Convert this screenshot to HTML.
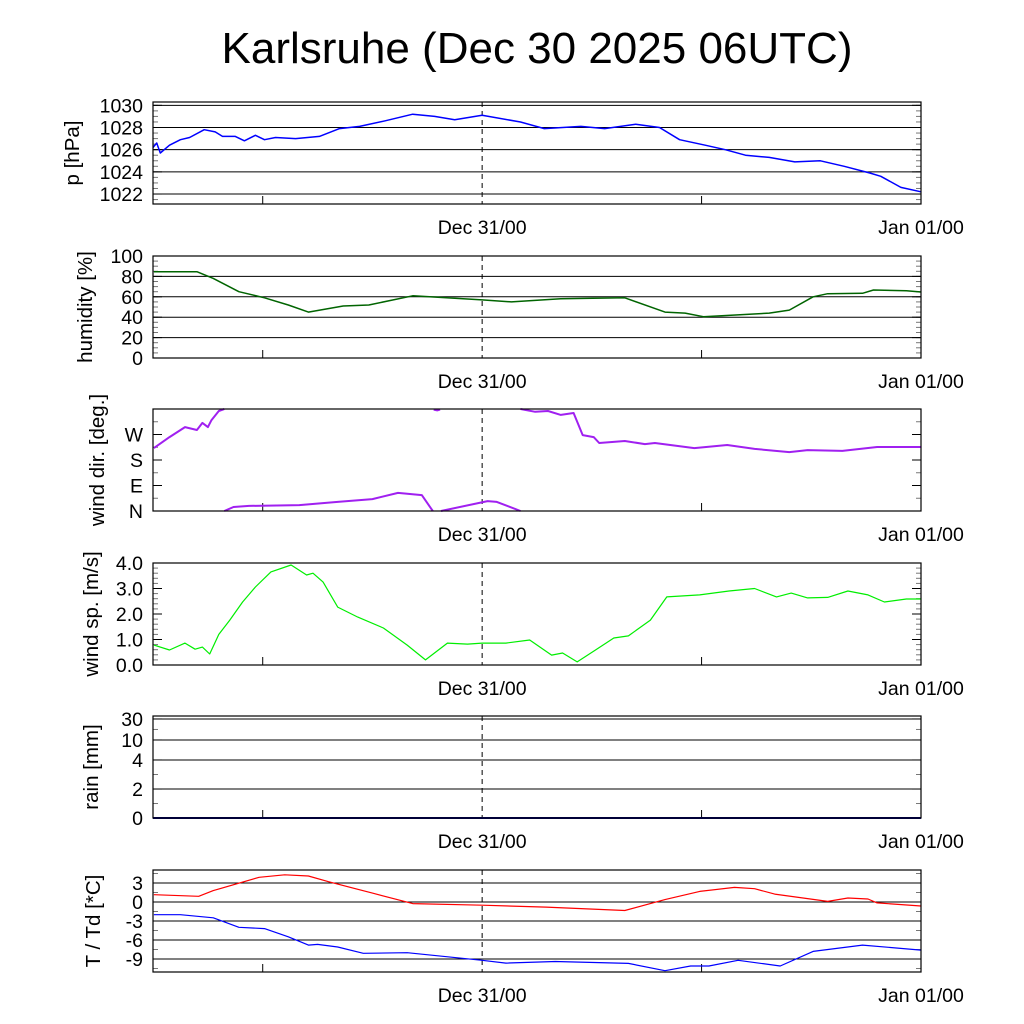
<!DOCTYPE html>
<html><head><meta charset="utf-8">
<style>
html,body{margin:0;padding:0;background:#fff;}
svg{display:block;font-family:"Liberation Sans",sans-serif;}
</style></head>
<body>
<svg id="chart" width="1024" height="1024" viewBox="0 0 1024 1024">
<text x="537" y="63" font-size="44" text-anchor="middle">Karlsruhe (Dec 30 2025 06UTC)</text>
</svg>
<script>
// ---- data (hours since Dec 30 00UTC) ----
const pTime=[6.0,6.2,6.4,6.9,7.5,8.0,8.8,9.4,9.8,10.5,11.0,11.6,12.1,12.7,13.8,15.1,16.2,17.3,18.7,20.2,21.4,22.5,24.0,26.1,27.4,29.4,30.7,32.4,33.7,34.8,36.2,37.3,38.4,39.7,41.1,42.5,43.8,45.2,45.8,46.9,48.0];
const pVal=[1026.2,1026.6,1025.7,1026.4,1026.9,1027.1,1027.8,1027.6,1027.2,1027.2,1026.8,1027.3,1026.9,1027.1,1027.0,1027.2,1027.9,1028.1,1028.6,1029.2,1029.0,1028.7,1029.1,1028.5,1027.9,1028.1,1027.9,1028.3,1028.0,1026.9,1026.4,1026.0,1025.5,1025.3,1024.9,1025.0,1024.5,1023.9,1023.6,1022.6,1022.2];
const hTime=[6.05,8.4,9.3,10.7,12.1,13.4,14.5,16.4,17.8,20.2,24.0,25.6,28.3,31.8,34.0,35.1,36.1,39.7,40.8,42.1,42.9,44.8,45.4,47.2,48.0];
const hVal=[84.6,84.6,78,65,59,52,45,51,52,61,57,55,58,59,45,44,40.5,44,47,60,63,63.4,66.7,66,64.7];
const dTime=[6.05,6.9,7.75,8.4,8.7,9.0,9.2,9.6,9.9,9.9,10.4,11.25,14.0,16.1,18.0,19.4,20.7,21.3,21.35,21.55,21.7,21.75,24.3,24.8,26.1,26.1,26.9,27.6,28.3,29.0,29.5,30.1,30.4,31.8,32.9,33.45,35.6,37.4,38.9,40.8,41.8,43.7,45.6,48.0];
const dVal=[222,261,296,286,311,296,321,353,360,0,14,18,21,32,42,64,56,0,358,355,358,0,35,32,0,360,350,353,339,346,268,261,240,247,236,240,222,233,219,208,215,212,226,226];
const sTime=[6.05,6.9,7.75,8.3,8.7,9.1,9.6,10.2,10.9,11.6,12.45,13.55,14.4,14.75,15.3,16.1,17.2,18.6,19.9,20.9,22.1,23.2,24.0,25.3,26.6,27.8,28.4,29.2,30.2,31.2,32.0,33.2,34.1,35.9,37.5,38.9,40.1,40.9,41.8,42.9,44.0,45.1,46.0,47.2,48.0];
const sVal=[0.78,0.59,0.86,0.62,0.7,0.43,1.2,1.76,2.47,3.06,3.65,3.92,3.53,3.6,3.25,2.27,1.88,1.45,0.78,0.2,0.86,0.82,0.86,0.86,0.98,0.39,0.47,0.12,0.59,1.06,1.14,1.76,2.67,2.75,2.9,3.0,2.67,2.82,2.63,2.65,2.9,2.75,2.47,2.59,2.59];
const rTime=[6,48];
const rVal=[0,0];
const tTime=[6.05,8.5,9.3,11.8,13.2,14.5,15.6,18.0,20.2,24,27.5,31.8,34.0,35.9,37.8,38.9,40.0,41.1,42.9,44.0,45.1,45.6,48];
const tVal=[1.15,0.9,1.8,3.9,4.3,4.1,3.2,1.4,-0.26,-0.5,-0.8,-1.35,0.37,1.67,2.3,2.1,1.25,0.8,0.1,0.63,0.47,-0.15,-0.63];
const tdTime=[6.05,7.5,9.3,10.7,12.1,13.4,14.5,15.0,16.1,17.5,19.9,24,25.3,28.0,32.0,34.0,35.4,36.4,38.0,40.3,42.1,44.8,48];
const tdVal=[-2,-2,-2.5,-4,-4.2,-5.5,-6.8,-6.7,-7.1,-8.1,-8,-9.2,-9.65,-9.4,-9.7,-10.85,-10.1,-10.1,-9.2,-10.1,-7.8,-6.8,-7.6];
const xTickLabels=["Dec 31/00","Jan 01/00"];
const xTickHours=[24,48];
const pTicks=[1022,1024,1026,1028,1030];
const hTicks=[0,20,40,60,80,100];
const dTicks=[0,90,180,270];
const dTickLabels=["N","E","S","W"];
const sTicks=[0,1,2,3,4];
const sTickLabels=["0.0","1.0","2.0","3.0","4.0"];
const rTicks=[0,2,4,10,30];
const tTicks=[3,0,-3,-6,-9];

const svg=document.getElementById('chart');
const NS='http://www.w3.org/2000/svg';
const X0=153,X1=921,T0=6,T1=48;
function xs(t){return X0+(t-T0)/(T1-T0)*(X1-X0);}
function mk(tag,attrs,parent){const e=document.createElementNS(NS,tag);for(const k in attrs)e.setAttribute(k,attrs[k]);(parent||svg).appendChild(e);return e;}

function panel(cfg){
  const g=mk('g',{});
  
  
  const top=cfg.top,bot=cfg.top+102;
  const ys=cfg.ys||(v=>bot-(v-cfg.min)/(cfg.max-cfg.min)*(bot-top));
  (cfg.minor||[]).forEach(v=>{const y=ys(v);
    mk('line',{x1:X0,x2:X0+5,y1:y,y2:y,stroke:'#777','stroke-width':1},g);
    mk('line',{x1:X1-5,x2:X1,y1:y,y2:y,stroke:'#777','stroke-width':1},g);});
  cfg.ticks.forEach((v,i)=>{const y=ys(v);
    if(cfg.grid){const gl=mk('line',{x1:X0,x2:X1,y1:y,y2:y,stroke:'#000','stroke-width':1},g);
      
      }
    mk('line',{x1:X0,x2:X0+9,y1:y,y2:y,stroke:'#000','stroke-width':1},g);
    mk('line',{x1:X1-9,x2:X1,y1:y,y2:y,stroke:'#000','stroke-width':1},g);
    const tx=mk('text',{x:X0-10,y:y+7,'font-size':19.5,'text-anchor':'end'},g);
    
    
    tx.textContent=cfg.labels?cfg.labels[i]:String(v);});
  [12,36].forEach(h=>{mk('line',{x1:xs(h),x2:xs(h),y1:bot-8,y2:bot,stroke:'#000','stroke-width':1},g);});
  mk('line',{x1:xs(24),x2:xs(24),y1:top,y2:bot,stroke:'#000','stroke-width':1,'stroke-dasharray':'5,4'},g);
  cfg.series.forEach(s=>{
    let segs=[[]];
    s.t.forEach((t,i)=>{
      if(s.wrap&&i>0&&Math.abs(s.v[i]-s.v[i-1])>180){segs.push([]);}
      segs[segs.length-1].push([xs(t),ys(s.v[i])]);});
    segs.forEach(sg=>{if(sg.length<2)return;
      const pl=mk('polyline',{points:sg.map(p=>p[0].toFixed(1)+','+p[1].toFixed(1)).join(' '),fill:'none',stroke:s.color,'stroke-width':s.w||1.5,'stroke-linejoin':'round'},g);
      
      });
  });
  const fr=mk('rect',{x:X0,y:top,width:X1-X0,height:102,fill:'none',stroke:'#000','stroke-width':1.2},g);
  
  
  const cy=top+51;
  const yt=mk('text',{x:0,y:0,'font-size':20.5,'text-anchor':'middle',transform:`translate(${cfg.titleX||84},${cy}) rotate(-90)`},g);
  
  
  yt.textContent=cfg.title;
  xTickHours.forEach((h,i)=>{const xl=mk('text',{x:xs(h),y:bot+30,'font-size':19.5,'text-anchor':'middle'},g);
    
    
    xl.textContent=xTickLabels[i];});
}
function range(a,b,s){const r=[];for(let v=a;v<=b+1e-9;v+=s)r.push(+v.toFixed(3));return r;}

panel({name:'pressure',top:102,min:1021.1,max:1030.3,ticks:pTicks,grid:true,minor:range(1021.5,1030,0.5),title:'p [hPa]',titleX:79,
  series:[{t:pTime,v:pVal,color:'#0000ff',name:'pressure-line'}]});
panel({name:'humidity',top:256,min:0,max:100,ticks:hTicks,grid:true,minor:range(5,95,5),title:'humidity [%]',titleX:92,
  series:[{t:hTime,v:hVal,color:'#006400',name:'humidity-line'}]});
panel({name:'wind-direction',top:409,min:0,max:360,ticks:dTicks,labels:dTickLabels,grid:false,minor:[45,135,225,315],title:'wind dir. [deg.]',titleX:104,
  series:[{t:dTime,v:dVal,color:'#a020f0',name:'wind-direction-line',wrap:true,w:2}]});
panel({name:'wind-speed',top:563,min:0,max:4,ticks:sTicks,labels:sTickLabels,grid:false,minor:range(0.2,3.8,0.2),title:'wind sp. [m/s]',titleX:98,
  series:[{t:sTime,v:sVal,color:'#00ee00',name:'wind-speed-line',w:1.2}]});
const rainPos=[0,2,4,10,30];const rainFrac=[0,0.284,0.569,0.765,0.971];
function rainY(v){let i=0;while(i<rainPos.length-2&&v>rainPos[i+1])i++;
  const f=rainFrac[i]+(v-rainPos[i])/(rainPos[i+1]-rainPos[i])*(rainFrac[i+1]-rainFrac[i]);return 818-f*102;}
panel({name:'rain',top:716,ys:rainY,ticks:rTicks,grid:true,minor:[1,3,20],title:'rain [mm]',titleX:98,
  series:[{t:rTime,v:rVal,color:'#00008b',name:'rain-line',w:2}]});
panel({name:'temperature',top:870,min:-11.05,max:5.05,ticks:tTicks,grid:true,minor:[4.5,1.5,-1.5,-4.5,-7.5,-10.5],title:'T / Td [*C]',titleX:100,
  series:[{t:tTime,v:tVal,color:'#ff0000',name:'temperature-line',w:1.2},{t:tdTime,v:tdVal,color:'#0000ff',name:'dewpoint-line',w:1.2}]});
</script>
</body></html>
